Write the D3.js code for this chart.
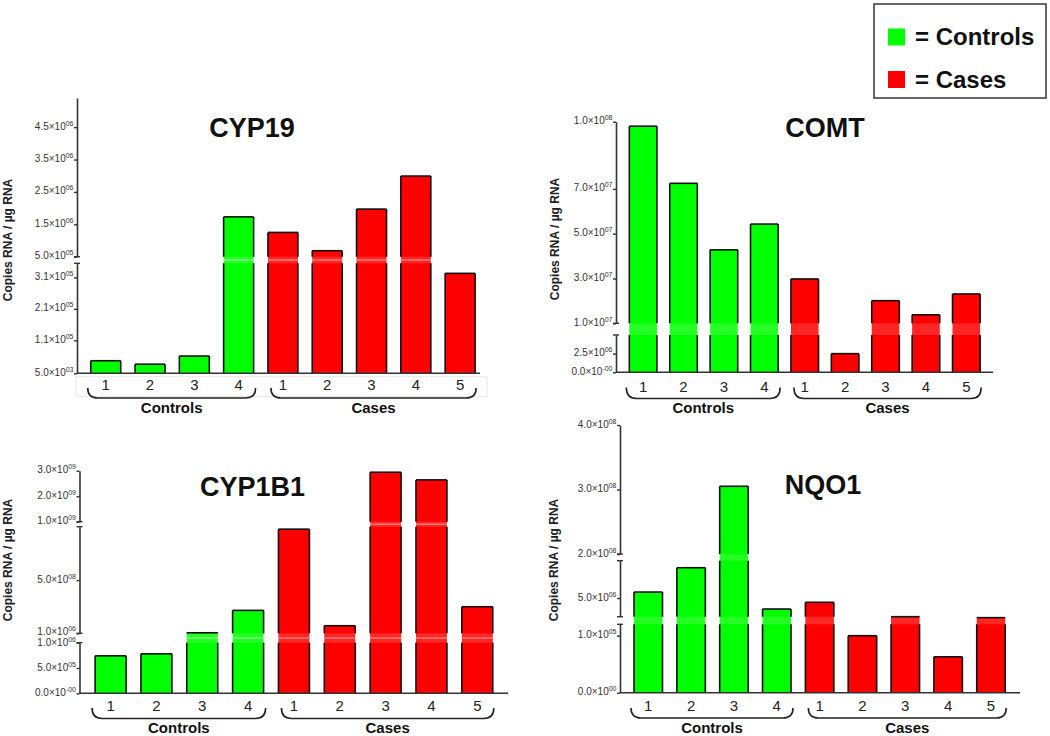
<!DOCTYPE html>
<html>
<head>
<meta charset="utf-8">
<script src="https://cdn.jsdelivr.net/npm/d3@7"></script>
<style>
  html, body { margin: 0; padding: 0; background: #fff; }
  svg { display: block; font-family: "Liberation Sans", Arial, sans-serif; }
</style>
</head>
<body>
<svg id="chart" width="1050" height="736"></svg>
<script>
// ---------------- DATA ----------------
const controlIds = ["1", "2", "3", "4"];
const caseIds = ["1", "2", "3", "4", "5"];
const groupNames = ["Controls", "Cases"];
const legendLabels = ["= Controls", "= Cases"];
const yAxisTitle = "Copies RNA / µg RNA";

const cyp19Controls = [4.5e4, 3.4e4, 6.0e4, 1.73e6];
const cyp19Cases    = [1.25e6, 6.85e5, 1.97e6, 2.99e6, 3.23e5];
const comtControls  = [9.8e7, 7.25e7, 4.28e7, 5.43e7];
const comtCases     = [2.98e7, 2.5e6, 2.01e7, 1.38e7, 2.31e7];
const cyp1b1Controls = [7.4e5, 7.8e5, 6.0e6, 2.16e8];
const cyp1b1Cases    = [9.77e8, 7.2e7, 2.94e9, 2.64e9, 2.5e8];
const nqo1Controls  = [5.8e6, 9.06e6, 3.05e8, 3.53e6];
const nqo1Cases     = [4.43e6, 1.0e5, 2.5e6, 6.3e4, 2.2e6];

// axis segments (broken axes): domains, tick values, tick labels [mantissa, exponent]
const cyp19Domains = [[5e3, 3.55e5], [5e5, 5.4e6]];
const cyp19Ticks = [[5e3, 1.1e5, 2.1e5, 3.1e5], [5e5, 1.5e6, 2.5e6, 3.5e6, 4.5e6]];
const cyp19TickLabels = [[["5.0","03"],["1.1","05"],["2.1","05"],["3.1","05"]],
                         [["5.0","05"],["1.5","06"],["2.5","06"],["3.5","06"],["4.5","06"]]];

const comtDomains = [[0, 5e6], [1e7, 1e8]];
const comtTicks = [[0, 2.5e6], [1e7, 3e7, 5e7, 7e7, 1e8]];
const comtTickLabels = [[["0.0","-00"],["2.5","06"]],
                        [["1.0","07"],["3.0","07"],["5.0","07"],["7.0","07"],["1.0","08"]]];

const cyp1b1Domains = [[0, 1e6], [1e6, 1e9], [1e9, 3e9]];
const cyp1b1Ticks = [[0, 5e5, 1e6], [1e6, 5e8], [1e9, 2e9, 3e9]];
const cyp1b1TickLabels = [[["0.0","-00"],["5.0","05"],["1.0","06"]],
                          [["1.0","06"],["5.0","08"]],
                          [["1.0","09"],["2.0","09"],["3.0","09"]]];

const nqo1Domains = [[0, 1.2e5], [2.5e6, 1e7], [2e8, 4e8]];
const nqo1Ticks = [[0, 1e5], [5e6], [2e8, 3e8, 4e8]];
const nqo1TickLabels = [[["0.0","00"],["1.0","05"]],
                        [["5.0","06"]],
                        [["2.0","08"],["3.0","08"],["4.0","08"]]];

// ---------------- LAYOUT ----------------
const GREEN = "#00ff00", RED = "#ff0000";
const panels = [
  { title: "CYP19", controls: cyp19Controls, cases: cyp19Cases,
    domains: cyp19Domains, ticks: cyp19Ticks, tickLabels: cyp19TickLabels,
    ranges: [[373.3, 263.3], [256.7, 98]],
    axisX: 77, step: 44.3, pi: 0.323, po: 0.31, baseEnd: 480,
    titleX: 252, titleY: 137, ylabX: 8, ylabY: 240,
    numY: 390, braceT: 388, braceB: 398, groupY: 412.5, box: true, gapLine: true },
  { title: "COMT", controls: comtControls, cases: comtCases,
    domains: comtDomains, ticks: comtTicks, tickLabels: comtTickLabels,
    ranges: [[372.3, 335], [323.3, 121.7]],
    axisX: 616, step: 40.4, pi: 0.317, po: 0.33, baseEnd: 993,
    titleX: 825, titleY: 137, ylabX: 555, ylabY: 239,
    numY: 391.5, braceT: 387.5, braceB: 398.5, groupY: 412.5 },
  { title: "CYP1B1", controls: cyp1b1Controls, cases: cyp1b1Cases,
    domains: cyp1b1Domains, ticks: cyp1b1Ticks, tickLabels: cyp1b1TickLabels,
    ranges: [[693.3, 642.7], [633.3, 526.7], [521.7, 470.7]],
    axisX: 79.5, step: 45.84, pi: 0.324, po: 0.34, baseEnd: 508,
    titleX: 252.5, titleY: 496, ylabX: 8, ylabY: 560,
    numY: 711, braceT: 708, braceB: 718.5, groupY: 732.5, gapLine: true },
  { title: "NQO1", controls: nqo1Controls, cases: nqo1Cases,
    domains: nqo1Domains, ticks: nqo1Ticks, tickLabels: nqo1TickLabels,
    ranges: [[692.7, 624.3], [616.7, 560.7], [554, 425]],
    axisX: 620, step: 42.84, pi: 0.335, po: 0.327, baseEnd: 1020,
    titleX: 823, titleY: 493.5, ylabX: 553.5, ylabY: 560,
    numY: 711, braceT: 708, braceB: 718, groupY: 732.5 }
];

const svg = d3.select("#chart");
const AXIS = "#333";
const TICK_FS = 10;
const MIN_LABEL_GAP = 11.5;

function bracePath(x0, x1, yT, yB) {
  const r = 10;
  return `M${x0},${yT} Q${x0},${yB} ${x0 + r},${yB} L${x1 - r},${yB} Q${x1},${yB} ${x1},${yT}`;
}

panels.forEach(p => {
  const g = svg.append("g");
  const n = p.controls.length + p.cases.length;
  const rows = p.controls.map((v, i) => ({ key: "c" + i, label: controlIds[i], v, fill: GREEN }))
    .concat(p.cases.map((v, i) => ({ key: "k" + i, label: caseIds[i], v, fill: RED })));

  const x = d3.scaleBand()
    .domain(rows.map(d => d.key))
    .range([p.axisX, p.axisX + p.step * (n - p.pi + 2 * p.po)])
    .paddingInner(p.pi).paddingOuter(p.po);

  const segs = p.domains.map((dom, i) => d3.scaleLinear().domain(dom).range(p.ranges[i]));
  const baseY = p.ranges[0][0];
  function y(v) {
    for (let i = segs.length - 1; i >= 0; i--) {
      const d = segs[i].domain();
      if (v >= d[0]) {
        if (v <= d[1] || i === segs.length - 1) return segs[i](v);
        const lo = d[1], hi = segs[i + 1].domain()[0];
        const yLo = segs[i].range()[1], yHi = segs[i + 1].range()[0];
        return yLo + (yHi - yLo) * (v - lo) / (hi - lo);
      }
    }
    return segs[0](v);
  }

  if (p.box) {
    g.append("rect").attr("x", p.axisX - 1).attr("y", baseY + 3.5)
      .attr("width", p.baseEnd - p.axisX + 8).attr("height", 19.5)
      .attr("fill", "none").attr("stroke", "#e6e6e6").attr("stroke-width", 1);
  }

  const bw = x.bandwidth();
  g.selectAll("rect.bar").data(rows).enter().append("rect")
    .attr("class", "bar")
    .attr("x", d => x(d.key)).attr("width", bw)
    .attr("y", d => y(d.v)).attr("height", d => baseY - y(d.v))
    .attr("fill", d => d.fill);

  for (let i = 0; i < segs.length - 1; i++) {
    const gTop = segs[i + 1].range()[0], gBot = segs[i].range()[1];
    rows.forEach(d => {
      const yt = y(d.v);
      if (yt < gBot) {
        const top = Math.max(yt, gTop);
        g.append("rect").attr("x", x(d.key)).attr("width", bw)
          .attr("y", top).attr("height", gBot - top)
          .attr("fill", "#fff").attr("opacity", 0.15);
        if (p.gapLine && yt < gTop) {
          g.append("line").attr("x1", x(d.key)).attr("x2", x(d.key) + bw)
            .attr("y1", (gTop + gBot) / 2).attr("y2", (gTop + gBot) / 2)
            .attr("stroke", "#fff").attr("stroke-opacity", 0.6).attr("stroke-width", 1);
        }
      }
    });
  }

  rows.forEach(d => {
    const yt = y(d.v), x0 = x(d.key), x1 = x0 + bw;
    g.append("line").attr("x1", x0).attr("x2", x1).attr("y1", yt).attr("y2", yt)
      .attr("stroke", "#111").attr("stroke-width", 1.6);
    segs.forEach(s => {
      const [sb, st] = s.range();
      if (yt < sb) {
        const top = Math.max(yt, st);
        [x0, x1].forEach(xx => {
          g.append("line").attr("x1", xx).attr("x2", xx).attr("y1", top).attr("y2", sb)
            .attr("stroke", "#111").attr("stroke-width", 1.6);
        });
      }
    });
  });

  // collect tick label positions and spread any that collide
  const labels = [];
  segs.forEach((s, i) => {
    p.ticks[i].forEach((t, j) => labels.push({ y: s(t) + 2.5, lab: p.tickLabels[i][j] }));
  });
  labels.sort((a, b) => b.y - a.y);
  for (let k = 1; k < labels.length; k++) {
    const gap = labels[k - 1].y - labels[k].y;
    if (gap < MIN_LABEL_GAP) {
      const push = (MIN_LABEL_GAP - gap) / 2;
      labels[k - 1].y += push;
      labels[k].y -= push;
    }
  }

  segs.forEach((s, i) => {
    const ax = d3.axisLeft(s).tickValues(p.ticks[i]).tickSize(3).tickSizeOuter(0).tickFormat("");
    const ag = g.append("g").attr("transform", `translate(${p.axisX},0)`).call(ax);
    ag.select(".domain").attr("stroke", AXIS).attr("stroke-width", 1.6);
    ag.selectAll(".tick line").attr("stroke", AXIS).attr("stroke-width", 1.4);
    const [sb, st] = s.range();
    if (i > 0) {
      ag.append("line").attr("x1", -3).attr("x2", 3).attr("y1", sb).attr("y2", sb)
        .attr("stroke", AXIS).attr("stroke-width", 1.4);
    }
    if (i < segs.length - 1) {
      ag.append("line").attr("x1", -3).attr("x2", 3).attr("y1", st).attr("y2", st)
        .attr("stroke", AXIS).attr("stroke-width", 1.4);
    }
  });

  labels.forEach(L => {
    const txt = g.append("text").attr("x", p.axisX - 3.5).attr("y", L.y)
      .attr("text-anchor", "end").attr("fill", "#333").attr("font-size", TICK_FS);
    txt.append("tspan").text(L.lab[0] + "×10");
    txt.append("tspan").attr("font-size", 7).attr("dy", -4).text(L.lab[1]);
  });

  g.append("line").attr("x1", p.axisX).attr("x2", p.baseEnd).attr("y1", baseY).attr("y2", baseY)
    .attr("stroke", AXIS).attr("stroke-width", 1.6);

  g.selectAll("text.num").data(rows).enter().append("text")
    .attr("class", "num")
    .attr("x", d => x(d.key) + bw / 2).attr("y", p.numY)
    .attr("text-anchor", "middle").attr("font-size", 15).attr("fill", "#222")
    .text(d => d.label);

  const c0 = x(rows[0].key) - 3, c1 = x(rows[p.controls.length - 1].key) + bw + 2;
  const k0 = x(rows[p.controls.length].key) + 3, k1 = x(rows[n - 1].key) + bw + 1;
  [[c0, c1, groupNames[0]], [k0, k1, groupNames[1]]].forEach(([a, b, name]) => {
    g.append("path").attr("d", bracePath(a, b, p.braceT, p.braceB))
      .attr("fill", "none").attr("stroke", "#222").attr("stroke-width", 1.6);
    g.append("text").attr("x", (a + b) / 2).attr("y", p.groupY)
      .attr("text-anchor", "middle").attr("font-size", 15).attr("font-weight", "bold")
      .attr("fill", "#111").text(name);
  });

  g.append("text").attr("x", p.titleX).attr("y", p.titleY)
    .attr("text-anchor", "middle").attr("font-size", 27).attr("font-weight", "bold")
    .attr("fill", "#111").text(p.title);

  g.append("text")
    .attr("transform", `translate(${p.ylabX},${p.ylabY}) rotate(-90)`)
    .attr("text-anchor", "middle").attr("dominant-baseline", "central")
    .attr("font-size", 12).attr("font-weight", "bold").attr("fill", "#222")
    .text(yAxisTitle);
});

const lg = svg.append("g");
lg.append("rect").attr("x", 874).attr("y", 4).attr("width", 172).attr("height", 94)
  .attr("fill", "#fff").attr("stroke", "#333").attr("stroke-width", 1.5);
[[GREEN, legendLabels[0], 28.5, 44.5], [RED, legendLabels[1], 71, 88]].forEach(([c, t, ry, ty]) => {
  lg.append("rect").attr("x", 888).attr("y", ry).attr("width", 17).attr("height", 17).attr("fill", c);
  lg.append("text").attr("x", 915).attr("y", ty).attr("font-size", 24).attr("font-weight", "bold")
    .attr("fill", "#111").text(t);
});
</script>
</body>
</html>
